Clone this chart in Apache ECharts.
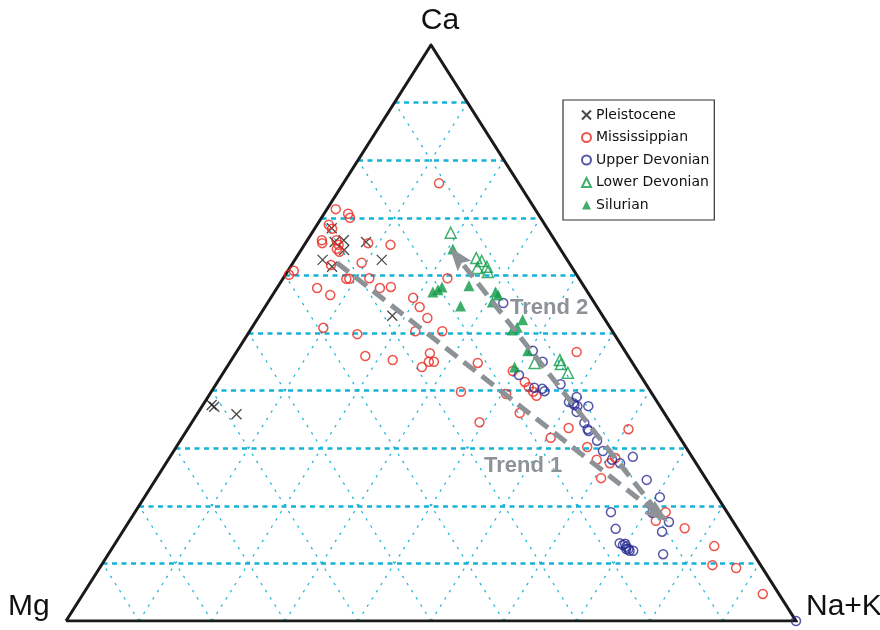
<!DOCTYPE html>
<html>
<head>
<meta charset="utf-8">
<script src="https://cdn.jsdelivr.net/npm/echarts@6/dist/echarts.min.js"></script>
<style>
  html, body { margin: 0; padding: 0; background: #ffffff; }
  #chart { width: 880px; height: 630px; }
</style>
</head>
<body>
<div id="chart"></div>
<script>
// Ternary compositions, each sample given as [Ca, Mg, Na+K] in percent.
const vertexNames = ['Ca', 'Mg', 'Na+K'];
const groupNames = ['Pleistocene', 'Mississippian', 'Upper Devonian', 'Lower Devonian', 'Silurian'];
const trendNames = ['Trend 1', 'Trend 2'];
const gridLevels = [10, 20, 30, 40, 50, 60, 70, 80, 90];

const pleistocene = [
  [68.2, 29.5, 2.3], [66.1, 28.9, 5.0], [65.8, 30.3, 3.9], [64.4, 29.7, 5.9],
  [65.8, 26.0, 8.2], [62.7, 33.5, 3.8], [61.5, 32.8, 5.7], [62.7, 25.4, 11.9],
  [53.0, 28.8, 18.2], [37.5, 61.3, 1.2], [37.2, 61.1, 1.7], [35.9, 58.7, 5.4]
];

const mississippian = [
  [71.5, 27.3, 1.2], [70.7, 26.0, 3.3], [70.0, 26.1, 3.9], [68.8, 29.6, 1.6],
  [68.1, 29.5, 2.4], [66.1, 31.9, 2.0], [65.6, 32.1, 2.3], [66.1, 29.9, 4.0],
  [65.3, 30.0, 4.7], [64.6, 30.6, 4.8], [64.1, 30.5, 5.4], [65.6, 25.8, 8.6],
  [65.3, 22.9, 11.8], [62.2, 28.4, 9.4], [61.8, 32.8, 5.4], [60.8, 38.4, 0.8],
  [60.1, 39.4, 0.5], [59.4, 31.9, 8.7], [59.4, 31.5, 9.1], [59.5, 28.7, 11.8],
  [57.8, 28.1, 14.1], [58.0, 26.5, 15.5], [57.8, 36.7, 5.5], [56.6, 35.5, 7.9],
  [56.1, 24.4, 19.5], [54.5, 24.3, 21.2], [52.6, 24.2, 23.2], [50.9, 39.3, 9.8],
  [49.8, 35.2, 15.0], [50.3, 27.0, 22.7], [50.3, 23.3, 26.4], [59.5, 18.0, 22.5],
  [46.0, 36.0, 18.0], [45.3, 32.6, 22.1], [46.5, 26.9, 26.6], [45.0, 27.8, 27.2],
  [45.0, 27.1, 27.9], [44.1, 29.2, 26.7], [44.8, 21.2, 34.0], [39.8, 26.0, 34.2],
  [34.5, 26.1, 39.4], [76.0, 10.9, 13.1], [46.7, 6.7, 46.6], [43.4, 17.1, 39.5],
  [41.5, 16.4, 42.1], [40.6, 16.3, 43.1], [39.8, 16.1, 44.1], [39.1, 16.0, 44.9],
  [39.4, 20.0, 40.6], [36.1, 19.8, 44.1], [33.5, 14.4, 52.1], [31.8, 17.7, 50.5],
  [30.2, 13.5, 56.3], [33.3, 6.3, 60.4], [28.0, 13.3, 58.7], [27.4, 11.8, 60.8],
  [28.3, 10.6, 61.1], [24.8, 14.3, 60.9], [18.9, 8.4, 72.7], [17.4, 10.5, 72.1],
  [16.1, 7.2, 76.7], [13.0, 4.7, 82.3], [9.7, 6.6, 83.7], [9.2, 3.6, 87.2],
  [4.7, 2.2, 93.1]
];

const upperDevonian = [
  [55.2, 12.5, 32.3], [46.9, 12.6, 40.5], [45.0, 12.2, 42.8], [42.7, 16.6, 40.7],
  [41.1, 11.7, 47.2], [40.5, 15.6, 43.9], [40.3, 14.6, 45.1], [39.9, 14.5, 45.6],
  [38.9, 10.6, 50.5], [38.0, 12.1, 49.9], [37.8, 11.6, 50.6], [37.5, 11.6, 50.9],
  [37.3, 11.3, 51.4], [37.3, 9.8, 52.9], [36.3, 11.9, 51.8], [34.4, 11.8, 53.8],
  [33.3, 11.9, 54.8], [33.0, 11.9, 55.1], [31.3, 11.6, 57.1], [29.5, 11.7, 58.8],
  [28.0, 11.2, 60.8], [27.4, 10.4, 62.2], [28.5, 8.1, 63.4], [24.5, 8.2, 67.3],
  [21.5, 7.9, 70.6], [18.9, 15.9, 65.2], [18.8, 10.3, 70.9], [17.2, 8.8, 74.0],
  [15.5, 10.6, 73.9], [16.0, 16.7, 67.3], [13.5, 17.4, 69.1], [13.2, 17.1, 69.7],
  [13.4, 16.7, 69.9], [12.9, 16.8, 70.3], [12.5, 16.7, 70.8], [12.2, 16.7, 71.1],
  [12.2, 16.2, 71.6], [12.5, 17.0, 70.5], [11.6, 12.4, 76.0], [0.0, 0.0, 100.0]
];

const lowerDevonian = [
  [67.4, 13.6, 19.0], [63.0, 12.3, 24.7], [62.5, 11.8, 25.7], [61.3, 13.0, 25.7],
  [61.5, 11.6, 26.9], [60.6, 11.9, 27.5], [44.8, 13.4, 41.8], [45.3, 9.7, 45.0],
  [44.6, 9.9, 45.5], [43.1, 9.7, 47.2]
];

const silurian = [
  [64.6, 14.7, 20.7], [57.1, 21.2, 21.7], [57.5, 20.3, 22.2], [58.0, 19.5, 22.5],
  [58.2, 15.7, 26.1], [54.7, 18.6, 26.7], [57.1, 12.6, 30.3], [56.6, 12.5, 30.9],
  [55.4, 13.9, 30.7], [52.3, 11.3, 36.4], [51.0, 12.7, 36.3], [50.5, 13.6, 35.9],
  [46.9, 13.3, 39.8], [44.1, 16.5, 39.4]
];

// Trend arrows: start and end compositions
const trend1 = [[62.2, 31.8, 6.0], [17.2, 8.9, 73.9]];
const trend2 = [[18.9, 9.5, 71.6], [64.9, 15.0, 20.1]];

// Ternary -> plot plane: x runs Mg (0) to Na+K (100), y is Ca.
function toXY(p) {
  const s = p[0] + p[1] + p[2];
  const ca = p[0] / s * 100;
  const nak = p[2] / s * 100;
  return [nak + ca / 2, ca];
}

const FONT = 'DejaVu Sans';
const GRID_CYAN = '#14b2d6';
const TREND_GREY = '#8c9296';
const HEAD_LEN = 24;   // arrowhead length in px
const HEAD_WID = 17;   // arrowhead width in px

// Horizontal (constant Ca) guide lines
const gridCa = gridLevels.map(k => ({ coords: [toXY([k, 100 - k, 0]), toXY([k, 0, 100 - k])] }));
// Sloping guide lines: constant Na+K and constant Mg
const gridSlant = [];
gridLevels.forEach(k => {
  gridSlant.push({ coords: [toXY([0, 100 - k, k]), toXY([100 - k, 0, k])] });
  gridSlant.push({ coords: [toXY([0, k, 100 - k]), toXY([100 - k, k, 0])] });
});

const outline = [[0, 100, 0], [0, 0, 100], [100, 0, 0], [0, 100, 0]].map(toXY);

const crossPath = 'path://M0,0L10,10M0,10L10,0';
const headPath = 'path://M5,0L10,14L5,11.5L0,14Z';

const chart = echarts.init(document.getElementById('chart'), null, { renderer: 'canvas' });

chart.setOption({
  animation: false,
  backgroundColor: '#ffffff',
  grid: { left: 66, right: 84, top: 45, bottom: 9 },
  xAxis: { type: 'value', min: 0, max: 100, show: false },
  yAxis: { type: 'value', min: 0, max: 100, show: false },
  legend: {
    orient: 'vertical',
    left: 563,
    top: 100,
    padding: [8, 5, 8, 18],
    itemGap: 8.5,
    itemWidth: 9,
    itemHeight: 9,
    backgroundColor: '#ffffff',
    borderColor: '#333333',
    borderWidth: 1.2,
    borderRadius: 0,
    selectedMode: false,
    textStyle: { fontFamily: FONT, fontSize: 14, color: '#111111', padding: [0, 0, 0, 0] },
    data: groupNames
  },
  graphic: [
    { type: 'text', left: 'center', top: 6, z: 100,
      style: { text: vertexNames[0], font: '30px "Liberation Sans"', fill: '#111' } },
    { type: 'text', left: 8, top: 592, z: 100,
      style: { text: vertexNames[1], font: '30px "Liberation Sans"', fill: '#111' } },
    { type: 'text', left: 806, top: 592, z: 100,
      style: { text: vertexNames[2], font: '30px "Liberation Sans"', fill: '#111' } },
    { type: 'text', left: 510, top: 297, z: 100,
      style: { text: trendNames[1], font: 'bold 22px "Liberation Sans"', fill: TREND_GREY } },
    { type: 'text', left: 484, top: 455, z: 100,
      style: { text: trendNames[0], font: 'bold 22px "Liberation Sans"', fill: TREND_GREY } }
  ],
  series: [
    {
      type: 'lines', coordinateSystem: 'cartesian2d', silent: true, z: 1,
      lineStyle: { color: GRID_CYAN, width: 1.2, type: [2.5, 6], opacity: 1 },
      data: gridSlant
    },
    {
      type: 'lines', coordinateSystem: 'cartesian2d', silent: true, z: 1,
      lineStyle: { color: GRID_CYAN, width: 2.6, type: [5, 4.5], opacity: 1 },
      data: gridCa
    },
    {
      type: 'line', silent: true, z: 2, showSymbol: false,
      lineStyle: { color: '#1a1a1a', width: 3, join: 'miter' },
      data: outline
    },
    {
      name: groupNames[0], type: 'scatter', z: 5,
      symbol: crossPath, symbolSize: 10,
      itemStyle: { color: 'rgba(0,0,0,0)', borderColor: '#1a1a1a', borderWidth: 1.3 },
      emphasis: { disabled: true },
      data: pleistocene.map(toXY)
    },
    {
      name: groupNames[1], type: 'scatter', z: 5,
      symbol: 'circle', symbolSize: 9,
      itemStyle: { color: 'rgba(255,255,255,0)', borderColor: '#e8291f', borderWidth: 1.5 },
      emphasis: { disabled: true },
      data: mississippian.map(toXY)
    },
    {
      name: groupNames[2], type: 'scatter', z: 5,
      symbol: 'circle', symbolSize: 9,
      itemStyle: { color: 'rgba(255,255,255,0)', borderColor: '#2a2d94', borderWidth: 1.5 },
      emphasis: { disabled: true },
      data: upperDevonian.map(toXY)
    },
    {
      name: groupNames[3], type: 'scatter', z: 5,
      symbol: 'triangle', symbolSize: 11,
      itemStyle: { color: 'rgba(255,255,255,0)', borderColor: '#0f9c48', borderWidth: 1.5 },
      emphasis: { disabled: true },
      data: lowerDevonian.map(toXY)
    },
    {
      name: groupNames[4], type: 'scatter', z: 5,
      symbol: 'triangle', symbolSize: 11,
      itemStyle: { color: '#0f9a47' },
      emphasis: { disabled: true },
      data: silurian.map(toXY)
    }
  ]
});

// Trend arrows: the dashed shaft stops at the arrowhead base, and the head
// is rotated to follow the on-screen direction of each trend.
const shafts = [];
const heads = [];
[trend1, trend2].forEach(tr => {
  const a = chart.convertToPixel({ gridIndex: 0 }, toXY(tr[0]));
  const b = chart.convertToPixel({ gridIndex: 0 }, toXY(tr[1]));
  const dx = b[0] - a[0], dy = b[1] - a[1];
  const len = Math.hypot(dx, dy);
  const ux = dx / len, uy = dy / len;
  const base = [b[0] - ux * HEAD_LEN * 0.8, b[1] - uy * HEAD_LEN * 0.8];
  const mid = [b[0] - ux * HEAD_LEN / 2, b[1] - uy * HEAD_LEN / 2];
  shafts.push({ coords: [toXY(tr[0]), chart.convertFromPixel({ gridIndex: 0 }, base)] });
  heads.push({
    value: chart.convertFromPixel({ gridIndex: 0 }, mid),
    symbolRotate: Math.atan2(-dx, -dy) * 180 / Math.PI
  });
});

chart.setOption({
  series: [
    {
      id: 'trendShafts', type: 'lines', coordinateSystem: 'cartesian2d', silent: true, z: 6,
      lineStyle: { color: TREND_GREY, width: 5, type: [15, 8], opacity: 1 },
      data: shafts
    },
    {
      id: 'trendHeads', type: 'scatter', silent: true, z: 6,
      symbol: headPath, symbolSize: [HEAD_WID, HEAD_LEN], symbolKeepAspect: false,
      itemStyle: { color: TREND_GREY, opacity: 1 },
      emphasis: { disabled: true },
      data: heads
    }
  ]
});
</script>
</body>
</html>
